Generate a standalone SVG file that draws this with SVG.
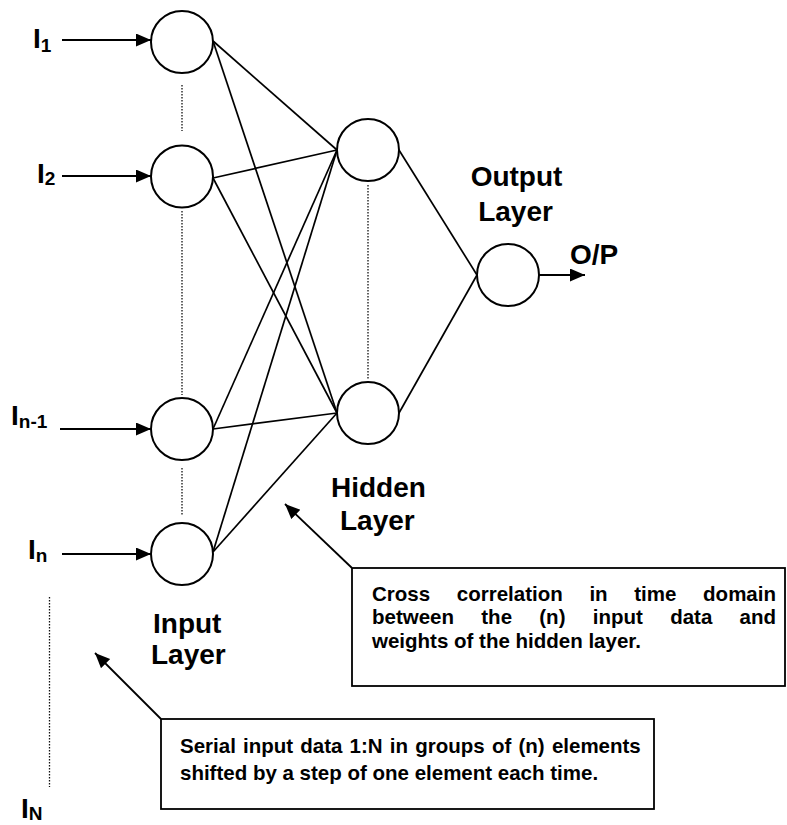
<svg xmlns="http://www.w3.org/2000/svg" width="787" height="825" viewBox="0 0 787 825">
<defs>
<marker id="ah" markerUnits="userSpaceOnUse" markerWidth="16" markerHeight="14" refX="15" refY="6.5" orient="auto">
<path d="M0,0 L15,6.5 L0,13 Z" fill="#000"/>
</marker>
<style>
.node{fill:#fff;stroke:#000;stroke-width:2}
.edge{stroke:#000;stroke-width:1.7;fill:none}
.arrow{stroke:#000;stroke-width:1.8;fill:none;marker-end:url(#ah)}
.dot{stroke:#111;stroke-width:1.3;stroke-dasharray:1.5 1.5;fill:none}
.big{font-family:"Liberation Sans",Arial,sans-serif;font-weight:bold;font-size:28px;fill:#000}
.sub{font-size:19px}
.note{font-family:"Liberation Sans",Arial,sans-serif;font-weight:bold;font-size:20.5px;fill:#000}
.box{fill:#fff;stroke:#000;stroke-width:1.8}
</style>
</defs>
<rect width="787" height="825" fill="#fff"/>

<g id="connectors">
<line class="edge" x1="213" y1="41" x2="337" y2="150"/>
<line class="edge" x1="213" y1="41" x2="337" y2="413"/>
<line class="edge" x1="213" y1="178" x2="337" y2="150"/>
<line class="edge" x1="213" y1="178" x2="337" y2="413"/>
<line class="edge" x1="213" y1="429" x2="337" y2="150"/>
<line class="edge" x1="213" y1="429" x2="337" y2="413"/>
<line class="edge" x1="213" y1="552" x2="337" y2="150"/>
<line class="edge" x1="213" y1="552" x2="337" y2="413"/>
<line class="edge" x1="399" y1="150" x2="477" y2="275"/>
<line class="edge" x1="399" y1="413" x2="477" y2="275"/>
<line class="arrow" x1="62" y1="40" x2="151" y2="40"/>
<line class="arrow" x1="62" y1="176" x2="151" y2="176"/>
<line class="arrow" x1="60" y1="429" x2="151" y2="429"/>
<line class="arrow" x1="62" y1="554" x2="151" y2="554"/>
<line class="arrow" x1="539" y1="275" x2="585" y2="275"/>
<line class="arrow" x1="352" y1="568" x2="285" y2="504"/>
<line class="arrow" x1="161" y1="719" x2="95" y2="653"/>
<line class="dot" x1="182" y1="85" x2="182" y2="131"/>
<line class="dot" x1="182" y1="211" x2="182" y2="395"/>
<line class="dot" x1="182" y1="468" x2="182" y2="516"/>
<line class="dot" x1="368" y1="185" x2="368" y2="380"/>
<line class="dot" x1="49.5" y1="597" x2="49.5" y2="787"/>
</g>

<g id="input1"><circle class="node" cx="182" cy="42" r="31"/></g>
<g id="input2"><circle class="node" cx="182" cy="176.5" r="31"/></g>
<g id="input3"><circle class="node" cx="182" cy="429" r="31"/></g>
<g id="input4"><circle class="node" cx="182" cy="554" r="31"/></g>
<g id="hidden1"><circle class="node" cx="368" cy="150" r="31"/></g>
<g id="hidden2"><circle class="node" cx="368" cy="413" r="31"/></g>
<g id="output"><circle class="node" cx="508" cy="275" r="31"/></g>

<g id="labels">
<text class="big" x="33" y="48">I<tspan class="sub" dy="4">1</tspan></text>
<text class="big" x="37" y="182.5">I<tspan class="sub" dy="2">2</tspan></text>
<text class="big" x="11" y="425">I<tspan class="sub" dy="3">n-1</tspan></text>
<text class="big" x="28" y="559">I<tspan class="sub" dy="3">n</tspan></text>
<text class="big" x="21" y="818">I<tspan class="sub" dy="2">N</tspan></text>
<text class="big" x="570" y="264">O/P</text>
<text class="big" x="516.5" y="186" text-anchor="middle">Output</text>
<text class="big" x="515.5" y="221" text-anchor="middle">Layer</text>
<text class="big" x="331" y="497">Hidden</text>
<text class="big" x="340" y="530">Layer</text>
<text class="big" x="153" y="633">Input</text>
<text class="big" x="151" y="664">Layer</text>
</g>

<g id="note-hidden">
<rect class="box" x="352" y="568" width="433" height="118"/>
<text class="note" y="600.5"><tspan x="372">Cross</tspan><tspan x="456.8">correlation</tspan><tspan x="589.4">in</tspan><tspan x="634.3">time</tspan><tspan x="703.1">domain</tspan></text>
<text class="note" y="624"><tspan x="372">between</tspan><tspan x="481.3">the</tspan><tspan x="539.3">(n)</tspan><tspan x="592.8">input</tspan><tspan x="670.2">data</tspan><tspan x="739.6">and</tspan></text>
<text class="note" x="372" y="647.5">weights of the hidden layer.</text>
</g>

<g id="note-input">
<rect class="box" x="161" y="719" width="493" height="90"/>
<text class="note" y="753"><tspan x="180">Serial</tspan><tspan x="243">input</tspan><tspan x="300.3">data</tspan><tspan x="349.6">1:N</tspan><tspan x="389.8">in</tspan><tspan x="415.2">groups</tspan><tspan x="491.9">of</tspan><tspan x="518.5">(n)</tspan><tspan x="551.9">elements</tspan></text>
<text class="note" x="180" y="780">shifted by a step of one element each time.</text>
</g>
</svg>
